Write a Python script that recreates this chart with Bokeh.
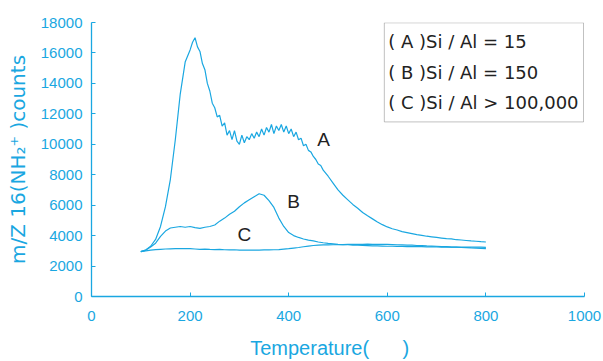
from bokeh.plotting import figure
from bokeh.models import Range1d, FixedTicker, Label, BoxAnnotation
from bokeh.embed import file_html
from bokeh.resources import INLINE

temps_a = ([100, 110, 120, 130, 140, 150, 160, 170, 180, 190]
           + list(range(200, 471, 5))
           + list(range(480, 801, 10)))
series_a = [2950, 3050, 3300, 3750, 4600, 5900, 7700, 10300, 13300, 15400,
            16200, 16700, 17000, 16400, 16100, 15300, 14900, 14000, 13500, 12700,
            12400, 11800, 11900, 11200, 11400, 10600, 10900, 10300, 10900, 10200,
            10000, 10600, 10100, 10500, 10300, 10700, 10400, 10800, 10500, 11000,
            10600, 11100, 10800, 11300, 10700, 11200, 10900, 11300, 10800, 11200,
            10700, 11000, 10500, 10800, 10300, 10400, 9900, 10000, 9600, 9500,
            9200, 9000, 8700, 8600, 8300,
            7900, 7450, 7000, 6650, 6350, 6050, 5800, 5520, 5300, 5100,
            4900, 4720, 4570, 4450, 4370, 4260, 4200, 4130, 4060, 4010,
            3960, 3920, 3880, 3840, 3800, 3780, 3730, 3710, 3680, 3650,
            3630, 3600, 3580]
temps = list(range(100, 801, 10))
series_b = [2950, 3050, 3250, 3500, 3950, 4300, 4500, 4550, 4600, 4550,
            4600, 4520, 4480, 4550, 4600, 4700, 4950, 5150, 5400, 5600,
            5900, 6150, 6350, 6550, 6750, 6650, 6300, 5850, 5150, 4600,
            4200, 4000, 3880, 3780, 3700, 3650, 3580, 3530, 3490, 3460,
            3430, 3410, 3400, 3380, 3370, 3350, 3340, 3330, 3320, 3310,
            3300, 3300, 3290, 3290, 3280, 3280, 3270, 3270, 3260, 3260,
            3260, 3250, 3260, 3250, 3250, 3240, 3250, 3240, 3240, 3250, 3230]
series_c = [2950, 3000, 3050, 3080, 3100, 3120, 3130, 3140, 3150, 3140,
            3140, 3120, 3100, 3110, 3090, 3080, 3090, 3070, 3060, 3070,
            3050, 3040, 3050, 3040, 3050, 3060, 3060, 3070, 3080, 3110,
            3140, 3180, 3220, 3270, 3310, 3350, 3370, 3390, 3390, 3400,
            3410, 3410, 3420, 3430, 3420, 3430, 3440, 3430, 3430, 3430,
            3420, 3410, 3400, 3390, 3380, 3370, 3350, 3340, 3320, 3310,
            3300, 3280, 3270, 3250, 3240, 3220, 3210, 3190, 3180, 3160, 3140]
x_ticks = [0, 200, 400, 600, 800, 1000]
y_ticks = [0, 2000, 4000, 6000, 8000, 10000, 12000, 14000, 16000, 18000]
legend_lines = ["( A )Si / Al = 15", "( B )Si / Al = 150", "( C )Si / Al > 100,000"]
curve_names = ["A", "B", "C"]

BLUE = "#1AA7E1"
FONT = "Liberation Sans"
NB = "\u00a0"

p = figure(width=603, height=361, output_backend="svg", toolbar_location=None,
           x_range=Range1d(0, 1000), y_range=Range1d(0, 18000),
           min_border_left=91, min_border_right=19, min_border_top=22, min_border_bottom=65)
p.outline_line_color = None
p.xgrid.visible = False
p.ygrid.visible = False
p.background_fill_color = "white"

for ax in (p.xaxis[0], p.yaxis[0]):
    ax.axis_line_color = BLUE
    ax.axis_line_width = 1.3
    ax.major_tick_line_color = BLUE
    ax.major_tick_in = 4
    ax.major_tick_out = 0
    ax.minor_tick_line_color = None
    ax.major_label_text_color = BLUE
    ax.major_label_text_font = FONT
    ax.major_label_text_font_size = "15px"
    ax.axis_label_text_color = BLUE
    ax.axis_label_text_font = FONT
    ax.axis_label_text_font_size = "20px"
    ax.axis_label_text_font_style = "normal"

p.xaxis.ticker = FixedTicker(ticks=x_ticks)
p.yaxis.ticker = FixedTicker(ticks=y_ticks)
p.xaxis.major_label_standoff = 14
p.yaxis.major_label_standoff = 9
p.xaxis.axis_label = "Temperature(" + NB * 6 + ")" + NB * 3
p.xaxis.axis_label_standoff = 13
p.yaxis.axis_label = "m/Z 16(NH₂⁺" + NB + ")counts"
p.yaxis.axis_label_text_font = "DejaVu Sans"
p.yaxis.axis_label_text_font_size = "20px"
p.yaxis.axis_label_standoff = 8

p.line(temps_a, series_a, line_color=BLUE, line_width=1.2)
p.line(temps, series_b, line_color=BLUE, line_width=1.2)
p.line(temps, series_c, line_color=BLUE, line_width=1.2)

box = BoxAnnotation(left=594, right=998, top=17980, bottom=11470,
                    fill_color="white", fill_alpha=1.0,
                    line_color="#333333", line_width=1)
p.add_layout(box)
for i, txt in enumerate(legend_lines):
    p.add_layout(Label(x=602, y=16745 - i * 2010, text=txt, text_font="DejaVu Sans",
                       text_font_size="18px", text_color="#222222",
                       text_baseline="middle", text_align="left"))

for name, (lx, ly) in zip(curve_names, [(471, 10285), (410, 6260), (310, 4090)]):
    p.add_layout(Label(x=lx, y=ly, text=name, text_font=FONT, text_font_size="19px",
                       text_color="#222222", text_baseline="middle", text_align="center"))

open("out.html", "w").write(file_html(p, INLINE))
